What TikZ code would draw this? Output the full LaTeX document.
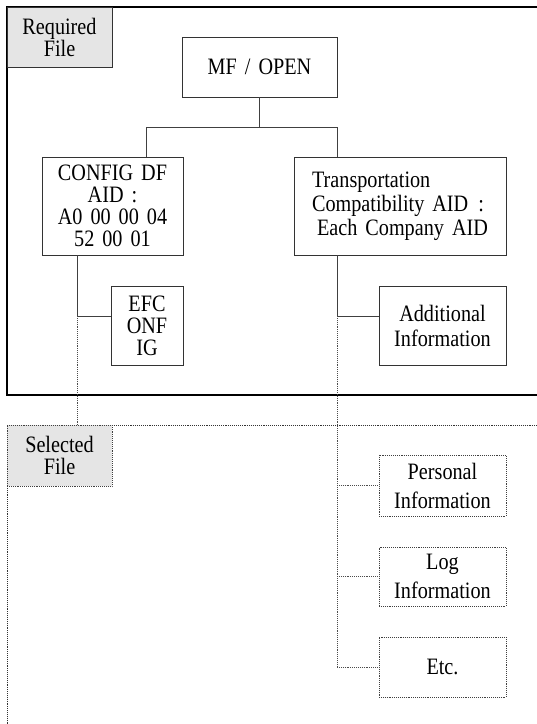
\documentclass[tikz,border=0pt]{standalone}
\usepackage{fontspec}
\setmainfont[FakeStretch=0.86]{Liberation Serif}
\newcommand{\gapw}{\hspace{8pt}}
\begin{document}
\begin{tikzpicture}[x=1pt,y=-1pt,
  lbl/.style={font=\fontsize{23.5}{22}\selectfont, align=center, inner sep=0pt},
  solidbox/.style={lbl, draw=black!80, line width=0.9pt, rectangle},
  dotbox/.style={lbl, draw=black!75, line width=0.9pt, densely dotted, rectangle},
  tagfill/.style={fill=black!10},
  conn/.style={draw=black!75, line width=0.9pt},
  dconn/.style={draw=black!70, line width=0.9pt, densely dotted},
  frame/.style={draw=black, line width=1.3pt},
  dframe/.style={draw=black!80, line width=0.9pt, densely dotted}]
\useasboundingbox (0,0) rectangle (537,724);
% frames
\draw[frame] (537,7) -- (7,7) -- (7,395) -- (537,395);
\draw[dframe] (537,425) -- (7,425) -- (7,724);
% nodes
\node[solidbox, tagfill, minimum width=105, minimum height=60] (req) at (59.5,37) {Required\\File};
\node[solidbox, minimum width=155, minimum height=60] (mf) at (259.5,67) {MF\gapw/\gapw OPEN};
\node[solidbox, minimum width=141, minimum height=98] (config) at (112.5,206) {CONFIG\gapw DF\\AID\gapw :\\A0\gapw 00\gapw 00\gapw 04\\52\gapw 00\gapw 01};
\node[solidbox, align=left, minimum width=212, minimum height=98] (trans) at (400,206) {Transportation\\[2pt]Compatibility\gapw AID\hspace{10pt}:\\[2pt]\hspace{5pt}Each\gapw Company\gapw AID\hspace{6pt}};
\node[solidbox, minimum width=72, minimum height=79] (efc) at (147,325.5) {EFC\\ONF\\IG};
\node[solidbox, minimum width=127, minimum height=79] (addl) at (442.5,325.5) {Additional\\[3pt]Information};
\node[dotbox, tagfill, minimum width=105, minimum height=61] (sel) at (59.5,455.5) {Selected\\File};
\node[dotbox, minimum width=127, minimum height=61] (pers) at (442.5,485.5) {Personal\\[7pt]Information};
\node[dotbox, minimum width=127, minimum height=59] (log) at (442.5,576.5) {Log\\[7pt]Information};
\node[dotbox, minimum width=127, minimum height=60] (etc) at (442.5,667) {Etc.};
% connectors
\draw[conn] (mf.south) -- ++(0,30) coordinate (j);
\draw[conn] (j) -| ([xshift=33.5pt]config.north);
\draw[conn] (j) -| ([xshift=-63pt]trans.north);
\draw[conn] ([xshift=-35.5pt]config.south) |- ([yshift=9.5pt]efc.west);
\draw[conn] ([xshift=-63pt]trans.south) |- ([yshift=9.5pt]addl.west);
\draw[dconn] ([xshift=-35.5pt,yshift=9.5pt]config.south |- efc.west) -- ([xshift=17.5pt]sel.north);
\draw[dconn] ([xshift=-63pt]trans.south |- addl.west) ++(0,-9.5) -- ++(0,351) coordinate (b);
\draw[dconn] (b) -- (etc.west);
\draw[dconn] (b |- pers.west) -- (pers.west);
\draw[dconn] (b |- log.west) -- (log.west);
\end{tikzpicture}
\end{document}
